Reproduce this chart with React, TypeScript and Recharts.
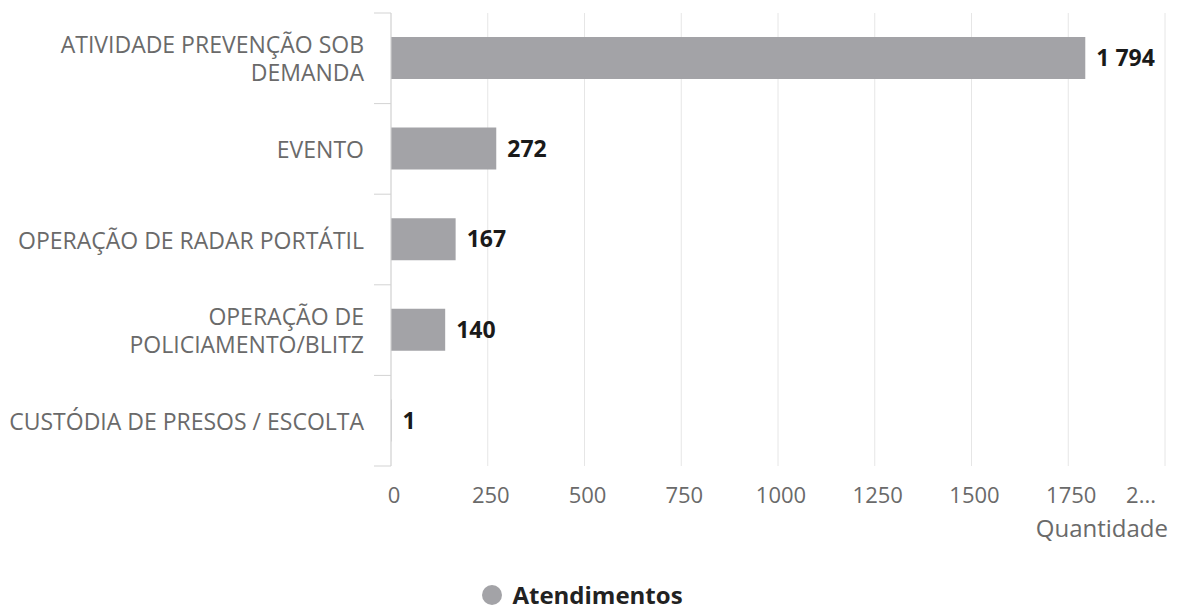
import React from 'react';
import { BarChart, Bar, XAxis, YAxis, CartesianGrid, LabelList, Legend } from 'recharts';

const categories = [
  'ATIVIDADE PREVENÇÃO SOB DEMANDA',
  'EVENTO',
  'OPERAÇÃO DE RADAR PORTÁTIL',
  'OPERAÇÃO DE POLICIAMENTO/BLITZ',
  'CUSTÓDIA DE PRESOS / ESCOLTA',
];
const atendimentos = [1794, 272, 167, 140, 1];
const xTicks = [0, 250, 500, 750, 1000, 1250, 1500, 1750, 2000];
const xTickLabels = ['0', '250', '500', '750', '1000', '1250', '1500', '1750', '2...'];
const seriesName = 'Atendimentos';
const axisTitle = 'Quantidade';

const data = categories.map((name, i) => ({ name, value: atendimentos[i] }));

const FONT = '"Open Sans", sans-serif';
const LABEL = '#6a6a6a';
const BAR = '#a3a3a7';
const AXIS = '#d3d3d3';

// greedy wrap, same as the chart did for the long category names
function wrap(text: string, max = 28) {
  const words = text.split(' ');
  const lines: string[] = [];
  let cur = '';
  words.forEach(w => {
    const next = cur ? cur + ' ' + w : w;
    if (next.length > max && cur) {
      lines.push(cur);
      cur = w;
    } else cur = next;
  });
  if (cur) lines.push(cur);
  return lines;
}

function CategoryTick(props: any) {
  const { x, y, payload, index } = props;
  const lines = wrap(payload.value);
  const lh = 28;
  const start = y - ((lines.length - 1) * lh) / 2;
  const half = payload.offset || 0; // half of the band, for the boundary tick marks
  return (
    <g>
      {half > 0 && <line x1={x - 17} x2={x} y1={y - half} y2={y - half} stroke={AXIS} />}
      {half > 0 && index === categories.length - 1 &&
        <line x1={x - 17} x2={x} y1={y + half} y2={y + half} stroke={AXIS} />}
      {lines.map((l, i) => (
        <text key={i} x={x - 27} y={start + i * lh} textAnchor="end" fill={LABEL} fontSize={23}
          fontFamily={FONT} dominantBaseline="central">{l}</text>
      ))}
    </g>
  );
}

function ValueTick(props: any) {
  const { x, y, payload, index } = props;
  const last = index === xTicks.length - 1;
  return (
    <text x={last ? x - 5 : x + 3} y={y + 28} textAnchor={last ? 'end' : 'middle'} dominantBaseline="central"
      fill={LABEL} fontSize={22} fontFamily={FONT}>
      {xTickLabels[xTicks.indexOf(payload.value)]}
    </text>
  );
}

const fmt = (v: number) => String(v).replace(/\B(?=(\d{3})+(?!\d))/g, ' ');

function LegendBox() {
  return (
    <div style={{ height: 26, display: 'flex', justifyContent: 'center', alignItems: 'center', fontFamily: FONT }}>
      <span style={{ width: 20, height: 20, borderRadius: 10, background: BAR, display: 'inline-block', marginRight: 10 }} />
      <span style={{ fontWeight: 700, fontSize: 24, lineHeight: 1, color: '#222' }}>{seriesName}</span>
    </div>
  );
}

export default function App() {
  return (
    <div style={{ position: 'absolute', left: 0, top: 0, width: 1177, height: 612, background: '#fff' }}>
      <BarChart width={1177} height={612} data={data} layout="vertical"
        margin={{ top: 13, right: 12, bottom: 0, left: 0 }} barSize={42}>
        <CartesianGrid horizontal={false} stroke="#e6e6e6" />
        <YAxis type="category" dataKey="name" width={391} tick={CategoryTick}
          tickLine={false} tickSize={0} tickMargin={0} axisLine={{ stroke: AXIS }} interval={0} />
        <XAxis type="number" domain={[0, 2000]} ticks={xTicks} tick={ValueTick} axisLine={false}
          tickLine={false} tickSize={0} tickMargin={0} height={120}
          label={({ viewBox }: any) => (
            <text x={viewBox.x + viewBox.width + 3} y={viewBox.y + 61} textAnchor="end" dominantBaseline="central"
              fill={LABEL} fontSize={24} fontFamily={FONT}>{axisTitle}</text>
          )} />
        <Legend verticalAlign="bottom" wrapperStyle={{ top: 582 }} content={() => <LegendBox />} />
        <Bar dataKey="value" name={seriesName} fill={BAR} isAnimationActive={false}>
          <LabelList dataKey="value" position="right" offset={11} formatter={(v: any) => fmt(Number(v))}
            fill="#1a1a1a" fontSize={23} fontWeight={700} fontFamily={FONT} />
        </Bar>
      </BarChart>
    </div>
  );
}
